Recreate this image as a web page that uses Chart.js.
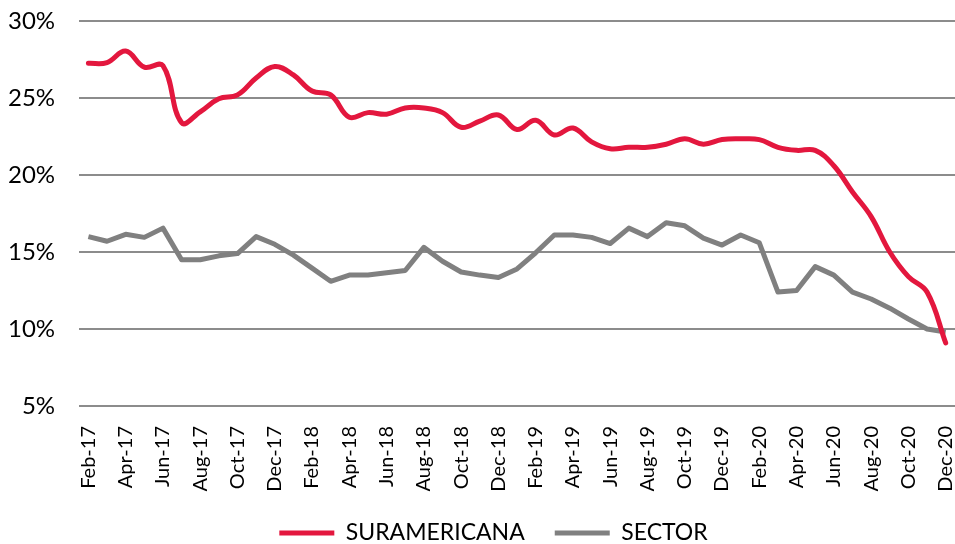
<!DOCTYPE html>
<html>
<head>
<meta charset="utf-8">
<script src="https://cdn.jsdelivr.net/npm/chart.js@4"></script>
<style>
  html, body { margin: 0; padding: 0; background: #fff; }
  #wrap { width: 955px; height: 544px; }
</style>
</head>
<body>
<div id="wrap"><canvas id="chart"></canvas></div>
<script>
// Mois (Feb-17 -> Dec-20)
const months = [
  'Feb-17','Mar-17','Apr-17','May-17','Jun-17','Jul-17','Aug-17','Sep-17','Oct-17','Nov-17','Dec-17',
  'Jan-18','Feb-18','Mar-18','Apr-18','May-18','Jun-18','Jul-18','Aug-18','Sep-18','Oct-18','Nov-18','Dec-18',
  'Jan-19','Feb-19','Mar-19','Apr-19','May-19','Jun-19','Jul-19','Aug-19','Sep-19','Oct-19','Nov-19','Dec-19',
  'Jan-20','Feb-20','Mar-20','Apr-20','May-20','Jun-20','Jul-20','Aug-20','Sep-20','Oct-20','Nov-20','Dec-20'
];

// SURAMERICANA (%)
const suramericana = [
  27.25, 27.3, 28.05, 27.0, 27.1, 23.4, 24.1, 24.95, 25.2, 26.3, 27.05,
  26.5, 25.45, 25.2, 23.75, 24.05, 23.95, 24.35, 24.35, 24.05, 23.1, 23.5, 23.9,
  22.95, 23.55, 22.6, 23.05, 22.15, 21.7, 21.8, 21.8, 22.0, 22.35, 22.0, 22.3,
  22.35, 22.3, 21.8, 21.6, 21.6, 20.6, 18.9, 17.3, 15.0, 13.4, 12.4, 9.1
];

// SECTOR (%)
const sector = [
  16.0, 15.7, 16.15, 15.95, 16.55, 14.5, 14.5, 14.75, 14.9, 16.0, 15.5,
  14.8, 13.95, 13.1, 13.5, 13.5, 13.65, 13.8, 15.3, 14.4, 13.7, 13.5, 13.35,
  13.9, 14.95, 16.1, 16.1, 15.95, 15.55, 16.55, 16.0, 16.9, 16.7, 15.9, 15.45,
  16.1, 15.6, 12.4, 12.5, 14.05, 13.5, 12.4, 11.95, 11.35, 10.65, 10.0, 9.8
];

// Axe Y
const yTicks = [5, 10, 15, 20, 25, 30];

const RED = '#E3173E';
const GREY = '#808080';
const FONT = 'Lato, "Open Sans", sans-serif';

// Décaler la légende vers la droite comme dans l'original
const legendShift = {
  id: 'legendShift',
  afterLayout(chart) {
    chart.legend.left += 24;
    chart.legend.right += 24;
  }
};

const ctx = document.getElementById('chart').getContext('2d');
new Chart(ctx, {
  type: 'line',
  data: {
    labels: months,
    datasets: [
      {
        label: 'SURAMERICANA',
        data: suramericana,
        borderColor: RED,
        backgroundColor: RED,
        borderWidth: 5,
        tension: 0.4,
        pointRadius: 0,
        borderCapStyle: 'round'
      },
      {
        label: 'SECTOR',
        data: sector,
        borderColor: GREY,
        backgroundColor: GREY,
        borderWidth: 5,
        tension: 0,
        pointRadius: 0,
        borderJoinStyle: 'round'
      }
    ]
  },
  plugins: [legendShift],
  options: {
    responsive: true,
    maintainAspectRatio: false,
    animation: false,
    layout: { padding: { left: -16, right: 0, top: 8, bottom: -10.5 } },
    scales: {
      x: {
        offset: true,
        grid: { display: false },
        border: { display: false },
        afterFit: axis => { axis.paddingRight = 0; axis.height = 85.5; },
        ticks: {
          autoSkip: false,
          minRotation: 90,
          maxRotation: 90,
          padding: 12,
          color: '#000',
          font: { family: FONT, size: 20 },
          callback: function(value, index) {
            return index % 2 === 0 ? this.getLabelForValue(value) : null;
          }
        }
      },
      y: {
        min: yTicks[0],
        max: yTicks[yTicks.length - 1],
        afterBuildTicks: axis => { axis.ticks = yTicks.map(v => ({ value: v })); },
        afterFit: axis => { axis.paddingTop = 21; axis.paddingBottom = 0; },
        grid: { color: '#8C8C8C', lineWidth: 2, drawTicks: false },
        border: { display: false },
        ticks: {
          padding: 24,
          color: '#000',
          font: { family: FONT, size: 24 },
          callback: v => v + '%'
        }
      }
    },
    plugins: {
      tooltip: { enabled: false },
      legend: {
        position: 'bottom',
        labels: {
          boxWidth: 55,
          boxHeight: 5,
          padding: 30,
          color: '#000',
          font: { family: FONT, size: 23 },
          generateLabels: chart => chart.data.datasets.map((ds, i) => ({
            text: ds.label,
            fillStyle: ds.borderColor,
            strokeStyle: ds.borderColor,
            lineWidth: 0,
            fontColor: '#000',
            datasetIndex: i,
            hidden: false
          }))
        }
      }
    }
  }
});
</script>
</body>
</html>
